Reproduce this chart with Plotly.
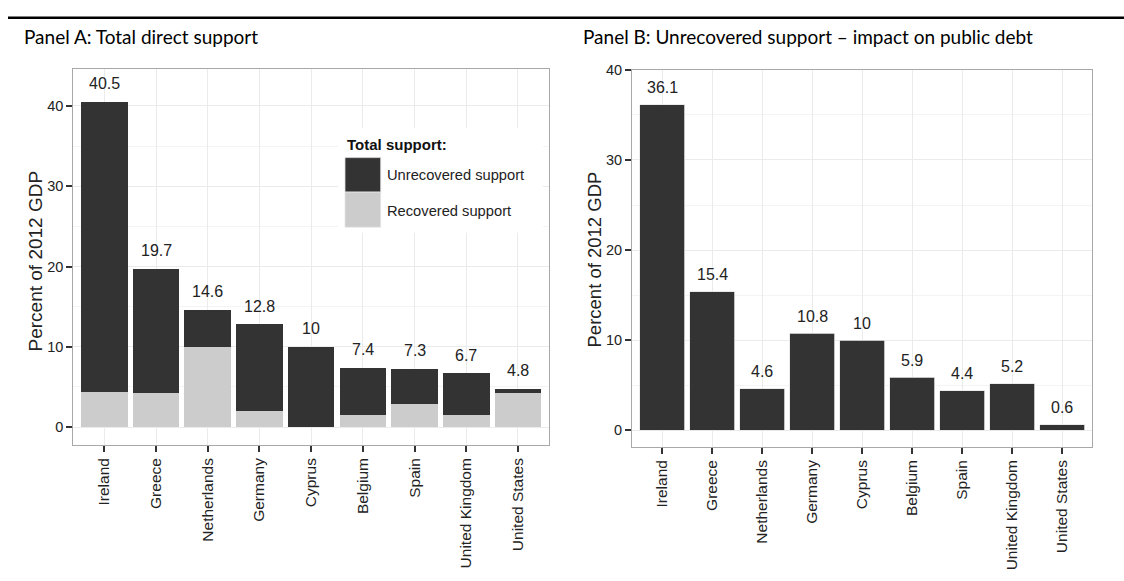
import plotly.graph_objects as go

# ---- data ----
countries = ["Ireland", "Greece", "Netherlands", "Germany", "Cyprus",
             "Belgium", "Spain", "United Kingdom", "United States"]
total_support = [40.5, 19.7, 14.6, 12.8, 10, 7.4, 7.3, 6.7, 4.8]
recovered = [4.4, 4.3, 10.0, 2.0, 0.0, 1.5, 2.9, 1.5, 4.2]
unrecovered = [36.1, 15.4, 4.6, 10.8, 10, 5.9, 4.4, 5.2, 0.6]
yticks = [0, 10, 20, 30, 40]

W, H = 1124, 581
def px(x):
    return x / W
def py(y):
    return 1 - y / H

DARK = "#333333"
LIGHT = "#CCCCCC"
GRID = "#EBEBEB"
FONT = "Liberation Sans, Arial, sans-serif"
TITLEFONT = "Lato, Open Sans, sans-serif"

fig = go.Figure()

# Panel A: stacked bars
fig.add_trace(go.Bar(x=countries, y=recovered, name="Recovered support",
                     marker=dict(color=LIGHT, line=dict(width=0)),
                     width=0.9, xaxis="x", yaxis="y", showlegend=False,
                     hoverinfo="x+y"))
fig.add_trace(go.Bar(x=countries,
                     y=[t - r for t, r in zip(total_support, recovered)],
                     name="Unrecovered support",
                     marker=dict(color=DARK, line=dict(width=0)),
                     width=0.9, xaxis="x", yaxis="y", showlegend=False,
                     hoverinfo="x+y"))
# Panel B: unrecovered
fig.add_trace(go.Bar(x=countries, y=unrecovered, name="Unrecovered support",
                     marker=dict(color=DARK, line=dict(width=0.8, color="#E6E6E6")),
                     width=0.9, xaxis="x2", yaxis="y2", showlegend=False,
                     hoverinfo="x+y"))

annotations = []
for c, v in zip(countries, total_support):
    annotations.append(dict(x=c, y=v, xref="x", yref="y", text=f"{v:g}",
                            showarrow=False, yshift=18, yanchor="middle",
                            font=dict(family=FONT, size=16, color="#222222")))
for c, v in zip(countries, unrecovered):
    annotations.append(dict(x=c, y=v, xref="x2", yref="y2", text=f"{v:g}",
                            showarrow=False, yshift=17, yanchor="middle",
                            font=dict(family=FONT, size=16, color="#222222")))

# Panel titles
annotations.append(dict(x=px(22), y=py(29), xref="paper", yref="paper",
                        xanchor="left", yanchor="middle", showarrow=False,
                        text="Panel A: Total direct support",
                        font=dict(family=TITLEFONT, size=19, color="black")))
annotations.append(dict(x=px(581), y=py(29), xref="paper", yref="paper",
                        xanchor="left", yanchor="middle", showarrow=False,
                        text="Panel B: Unrecovered support \u2013 impact on public debt",
                        font=dict(family=TITLEFONT, size=19, color="black")))
# y-axis titles
annotations.append(dict(x=px(35), y=py(257), xref="paper", yref="paper",
                        xanchor="center", yanchor="middle", showarrow=False,
                        textangle=-90, text="Percent of 2012 GDP",
                        font=dict(family=FONT, size=19, color="#222222")))
annotations.append(dict(x=px(594), y=py(255), xref="paper", yref="paper",
                        xanchor="center", yanchor="middle", showarrow=False,
                        textangle=-90, text="Percent of 2012 GDP",
                        font=dict(family=FONT, size=18.5, color="#222222")))
# legend text
annotations.append(dict(x=px(345), y=py(138), xref="paper", yref="paper",
                        xanchor="left", yanchor="middle", showarrow=False,
                        text="<b>Total support:</b>",
                        font=dict(family=FONT, size=15, color="#111111")))
annotations.append(dict(x=px(385), y=py(169), xref="paper", yref="paper",
                        xanchor="left", yanchor="middle", showarrow=False,
                        text="Unrecovered support",
                        font=dict(family=FONT, size=14.7, color="#222222")))
annotations.append(dict(x=px(385), y=py(205.5), xref="paper", yref="paper",
                        xanchor="left", yanchor="middle", showarrow=False,
                        text="Recovered support",
                        font=dict(family=FONT, size=14.7, color="#222222")))

shapes = [
    # top rule
    dict(type="line", xref="paper", yref="paper", x0=px(8), x1=1.0,
         y0=py(10), y1=py(10), line=dict(color="black", width=2.5)),
    # legend background
    dict(type="rect", xref="paper", yref="paper", x0=px(338), x1=px(543),
         y0=py(228), y1=py(122), fillcolor="white", line=dict(width=0),
         layer="above"),
    dict(type="rect", xref="paper", yref="paper", x0=px(345), x1=px(380.7),
         y0=py(186.7), y1=py(151.7), fillcolor=DARK,
         line=dict(width=0.8, color="#DDDDDD"), layer="above"),
    dict(type="rect", xref="paper", yref="paper", x0=px(345), x1=px(380.7),
         y0=py(222.3), y1=py(186.7), fillcolor=LIGHT,
         line=dict(width=0.8, color="#E6E6E6"), layer="above"),
]

def xaxis(domain, anchor):
    return dict(domain=domain, anchor=anchor, range=[-0.6, 8.6],
                tickangle=-90, ticks="outside", ticklen=6, tickwidth=1.5,
                tickcolor="#333333", showgrid=True, gridcolor=GRID,
                gridwidth=1, showline=True, linecolor="#A8A8A8",
                linewidth=1, mirror=True, zeroline=False,
                tickfont=dict(family=FONT, size=15.5, color="#222222"),
                fixedrange=True)

def yaxis(domain, anchor, rng):
    return dict(domain=domain, anchor=anchor, range=rng,
                tickmode="array", tickvals=yticks,
                ticktext=[str(v) for v in yticks],
                ticks="outside", ticklen=6, tickwidth=1.5,
                tickcolor="#333333", showgrid=True, gridcolor=GRID,
                gridwidth=1, showline=True, linecolor="#A8A8A8",
                linewidth=1, mirror=True, zeroline=False,
                minor=dict(tickmode="array", tickvals=[5, 15, 25, 35, 45],
                           showgrid=True, gridcolor="#F4F4F4", gridwidth=0.8,
                           ticks=""),
                tickfont=dict(family=FONT, size=14.5, color="#222222"),
                fixedrange=True)

fig.update_layout(
    width=W, height=H, autosize=False,
    margin=dict(l=0, r=0, t=0, b=0),
    paper_bgcolor="white", plot_bgcolor="white",
    barmode="stack", bargap=0.1,
    xaxis=xaxis([px(73.3), px(549)], "y"),
    yaxis=yaxis([py(443), py(62)], "x", [-2.21, 44.58]),
    xaxis2=xaxis([px(632), px(1092)], "y2"),
    yaxis2=yaxis([py(445), py(62.7)], "x2", [-1.83, 40.0]),
    annotations=annotations,
    shapes=shapes,
    showlegend=False,
)

fig.write_html(
    "out.html",
    config={"displayModeBar": False},
    post_script=("document.body.style.margin='0px';"
                 "document.body.style.overflow='hidden';"
                 "var gd=document.getElementById('{plot_id}');"
                 "gd.style.position='absolute';gd.style.top='0px';gd.style.left='0px';"),
)
